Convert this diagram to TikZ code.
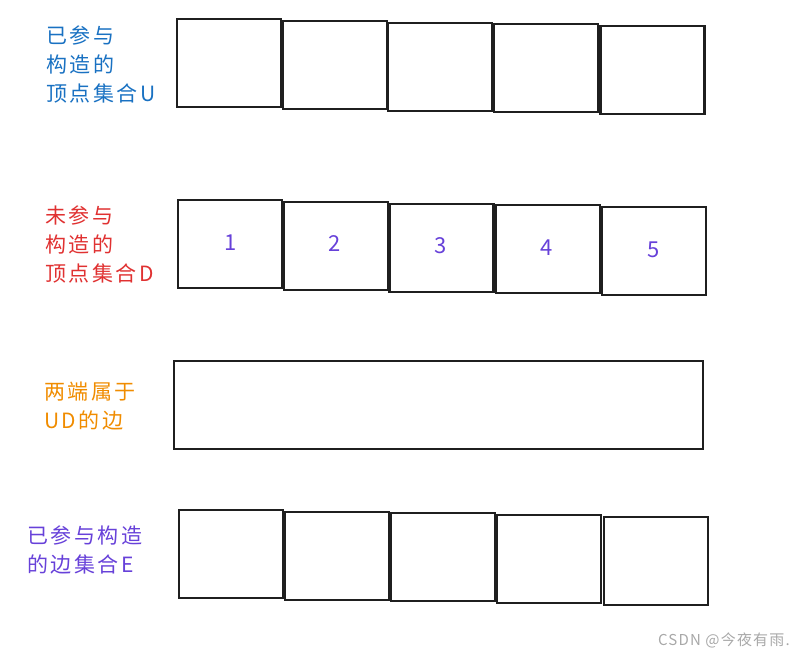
\documentclass[tikz,border=0pt]{standalone}
\usepackage{fontspec}
\setmainfont{Noto Sans CJK SC}
\newfontfamily\lblfont[LetterSpace=12]{Noto Sans CJK SC}
\newfontfamily\wmfont[LetterSpace=8]{Noto Sans CJK SC}
\definecolor{cblue}{HTML}{1971C2}
\definecolor{cred}{HTML}{E03131}
\definecolor{corange}{HTML}{F08C00}
\definecolor{cviolet}{HTML}{6741D9}
\definecolor{cgray}{HTML}{A8A8A8}
\tikzset{
  box/.style={draw=black!88, line width=2.3pt, minimum width=104pt, minimum height=88pt, inner sep=0pt},
  lbl/.style={align=left, anchor=north west, inner sep=0pt, font=\lblfont\fontsize{21}{29}\selectfont},
  num/.style={text=cviolet, font=\fontsize{22}{24}\selectfont}
}
\begin{document}
\begin{tikzpicture}[x=1pt,y=-1pt]
\useasboundingbox (0,0) rectangle (800,656);
% row 1
\node[box] (u1) at (229,63) {};
\node[box] (u2) at (335,65) {};
\node[box] (u3) at (440,67) {};
\node[box] (u4) at (546,68) {};
\node[box] (u5) at (652.5,70) {};
% row 2
\node[box] (d1) at (230,244) {};
\node[box] (d2) at (336,246) {};
\node[box] (d3) at (441.5,248) {};
\node[box] (d4) at (548,249) {};
\node[box] (d5) at (654,251) {};
\node[num] (n1) at (231,243) {1};
\node[num] (n2) at (335,244) {2};
\node[num] (n3) at (441,246) {3};
\node[num] (n4) at (547,248) {4};
\node[num] (n5) at (654,250) {5};
% row 3
\node[box, minimum width=529pt] (ud) at (438.5,405) {};
% row 4
\node[box] (e1) at (231,554) {};
\node[box] (e2) at (337,556) {};
\node[box] (e3) at (443,557) {};
\node[box] (e4) at (549,559) {};
\node[box] (e5) at (656,561) {};
% labels
\node[lbl, text=cblue] (lu) at (46,26) {已参与\\构造的\\顶点集合U};
\node[lbl, text=cred] (ld) at (45,206) {未参与\\构造的\\顶点集合D};
\node[lbl, text=corange] (le) at (44,382) {两端属于\\UD的边};
\node[lbl, text=cviolet] (lE) at (27,526) {已参与构造\\的边集合E};
\node[anchor=east, text=cgray, inner sep=0pt, font=\wmfont\fontsize{15}{17}\selectfont] (wm) at (790,640) {CSDN @今夜有雨.};
\end{tikzpicture}
\end{document}
